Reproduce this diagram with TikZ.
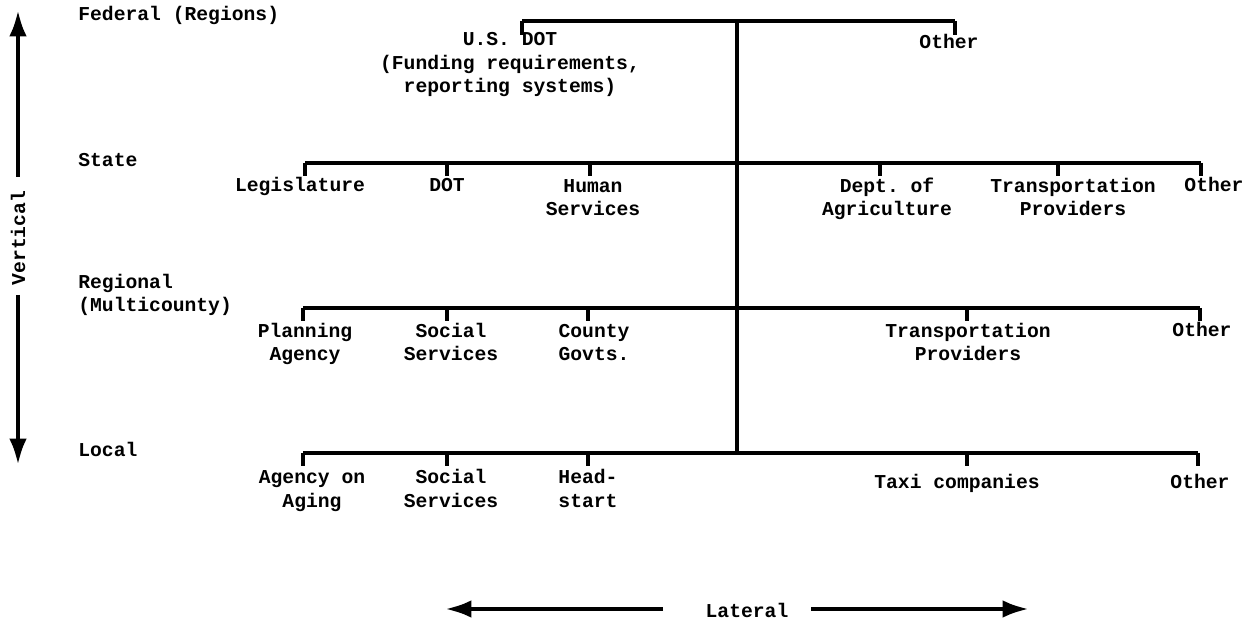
\documentclass[tikz,border=0pt]{standalone}
\usepackage{fontspec}
\setmonofont{Liberation Mono}
\usetikzlibrary{arrows.meta}

\tikzset{
  lbl/.style={font=\ttfamily\bfseries\fontsize{11.2}{13.6}\selectfont, inner sep=0pt, align=center, anchor=base},
  lvl/.style={lbl, align=left, anchor=base west},
  bar/.style={line width=2pt},
  tick/.style={line width=2.4pt},
  axis/.style={line width=2.6pt, -{Latex[length=15pt,width=10pt]}}
}

\begin{document}
\begin{tikzpicture}[x=0.02cm, y=-0.02cm]
    \useasboundingbox (0,0) rectangle (1250,624);

    % Level names (base = last line)
    \node[lvl] (fed) at (78,21) {Federal (Regions)};
    \node[lvl] (state) at (78,167) {State};
    \node[lvl] (reg) at (78,312) {Regional\\(Multicounty)};
    \node[lvl] (loc) at (78,457) {Local};

    % Vertical axis
    \node[lbl, anchor=center, rotate=90] (vert) at (18,238) {Vertical};
    \coordinate (vtop) at (18,10);
    \coordinate (vbot) at (18,465);
    \draw[axis] (18,177) -- (vtop);
    \draw[axis] (18,295) -- (vbot);

    % Trunk
    \coordinate (f0) at (737,21);
    \coordinate (l0) at (737,453);
    \draw[bar] (f0) -- (l0);

    % Federal
    \coordinate (f1) at (522,21);
    \coordinate (f2) at (955,21);
    \draw[bar] (f1) -- (f2);
    \draw[tick] (f1) -- ++(0,14);
    \draw[tick] (f2) -- ++(0,14);
    \node[lbl] (usdot) at (510,93) {U.S. DOT\\(Funding requirements,\\reporting systems)};
    \node[lbl] (fother) at (949,49) {Other};

    % State
    \coordinate (s1) at (305,163);
    \coordinate (s2) at (447,163);
    \coordinate (s3) at (590,163);
    \coordinate (s4) at (880,163);
    \coordinate (s5) at (1058,163);
    \coordinate (s6) at (1201,163);
    \draw[bar] (s1) -- (s6);
    \foreach \t in {s1,s2,s3,s4,s5,s6}
        \draw[tick] (\t) -- ++(0,13);
    \node[lbl] (legis) at (300,192) {Legislature};
    \node[lbl] (sdot) at (447,192) {DOT};
    \node[lbl] (human) at (593,216) {Human\\Services};
    \node[lbl] (agri) at (887,216) {Dept. of\\Agriculture};
    \node[lbl] (stp) at (1073,216) {Transportation\\Providers};
    \node[lbl] (sother) at (1214,192) {Other};

    % Regional
    \coordinate (r1) at (303,308);
    \coordinate (r2) at (447,308);
    \coordinate (r3) at (588,308);
    \coordinate (r4) at (967,308);
    \coordinate (r5) at (1200,308);
    \draw[bar] (r1) -- (r5);
    \foreach \t in {r1,r2,r3,r4,r5}
        \draw[tick] (\t) -- ++(0,13);
    \node[lbl] (plan) at (305,361) {Planning\\Agency};
    \node[lbl] (rsoc) at (451,361) {Social\\Services};
    \node[lbl] (county) at (594,361) {County\\Govts.};
    \node[lbl] (rtp) at (968,361) {Transportation\\Providers};
    \node[lbl] (rother) at (1202,337) {Other};

    % Local
    \coordinate (c1) at (303,453);
    \coordinate (c2) at (447,453);
    \coordinate (c3) at (588,453);
    \coordinate (c4) at (967,453);
    \coordinate (c5) at (1198,453);
    \draw[bar] (c1) -- (c5);
    \foreach \t in {c1,c2,c3,c4,c5}
        \draw[tick] (\t) -- ++(0,13);
    \node[lbl] (aging) at (312,507) {Agency on\\Aging};
    \node[lbl] (lsoc) at (451,507) {Social\\Services};
    \node[lbl] (head) at (588,507) {Head-\\start};
    \node[lbl] (taxi) at (957,488) {Taxi companies};
    \node[lbl] (lother) at (1200,488) {Other};

    % Lateral axis
    \node[lbl] (lat) at (747,617) {Lateral};
    \coordinate (hleft) at (445,609);
    \coordinate (hright) at (1029,609);
    \draw[axis] (663,609) -- (hleft);
    \draw[axis] (811,609) -- (hright);
\end{tikzpicture}
\end{document}
